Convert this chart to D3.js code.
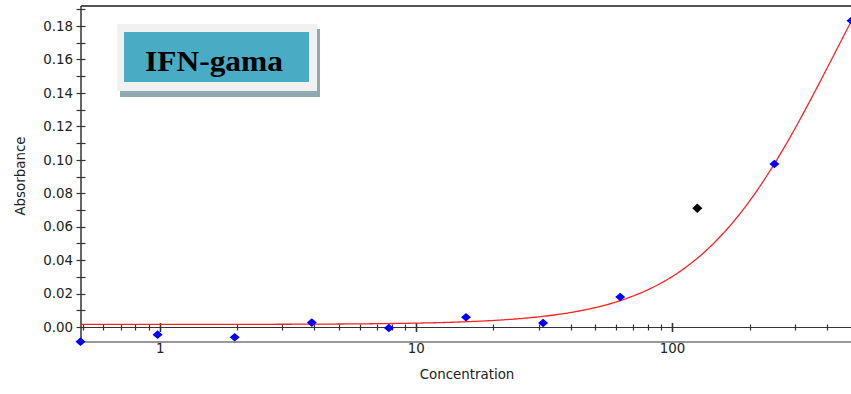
<!DOCTYPE html>
<html>
<head>
<meta charset="utf-8">
<script src="https://cdn.jsdelivr.net/npm/d3@7/dist/d3.min.js"></script>
<style>
  html, body { margin: 0; padding: 0; background: #ffffff; }
  svg { display: block; }
  text.lbl { font-family: "DejaVu Sans", sans-serif; fill: #222; }
  text.badge { font-family: "Liberation Serif", "Times New Roman", serif; font-weight: bold; fill: #000; }
</style>
</head>
<body>
<svg id="chart" width="851" height="394"></svg>
<script>
// Standard concentrations (two-fold dilution series) and measured absorbance
const concentrations = [0.48828125, 0.9765625, 1.953125, 3.90625, 7.8125, 15.625, 31.25, 62.5, 250, 500];
const absorbance     = [-0.0088, -0.0046, -0.0062, 0.0026, -0.0006, 0.0058, 0.0024, 0.0179, 0.0975, 0.1832];

// Point left out of the fit
const outlierConc = [125];
const outlierAbs  = [0.071];

// Four-parameter logistic fit: bottom, slope, EC50, top
const fitParams = { a: 0.0015, b: 1.6, c: 428, d: 0.3247 };

const yTicks = [0.00, 0.02, 0.04, 0.06, 0.08, 0.10, 0.12, 0.14, 0.16, 0.18];
const xTickLabels = [1, 10, 100];
const titleText = "IFN-gama";

const svg = d3.select("#chart");

const x = d3.scaleLog().domain([0.48828125, 500]).range([80.5, 851.5]);
const y = d3.scaleLinear().domain([-0.009, 0.192]).range([342, 6]);

const axisColor = "#333";
const plotLeft = 81, plotRight = 851, plotTop = 6, plotBottom = 342;

// Top frame line
svg.append("line").attr("x1", plotLeft).attr("x2", plotRight).attr("y1", plotTop).attr("y2", plotTop)
  .attr("stroke", "#555").attr("stroke-width", 2);
// Bottom frame line
svg.append("line").attr("x1", plotLeft).attr("x2", plotRight).attr("y1", plotBottom).attr("y2", plotBottom)
  .attr("stroke", axisColor).attr("stroke-width", 1.2);

// Y axis: major ticks every 0.02, minor every 0.01, crossing the axis line
const yAxisG = svg.append("g");
yAxisG.append("line").attr("x1", plotLeft).attr("x2", plotLeft).attr("y1", plotTop).attr("y2", plotBottom)
  .attr("stroke", axisColor).attr("stroke-width", 1.5);
const yMinor = d3.range(0, 0.1905, 0.01);
yAxisG.selectAll("line.tk").data(yMinor).join("line").attr("class", "tk")
  .attr("x1", plotLeft - 4.5).attr("x2", plotLeft + 4.5)
  .attr("y1", d => Math.round(y(d)) + 0.5).attr("y2", d => Math.round(y(d)) + 0.5)
  .attr("stroke", axisColor).attr("stroke-width", 1.2);
yAxisG.selectAll("text").data(yTicks).join("text").attr("class", "lbl")
  .attr("x", 73).attr("y", d => y(d)).attr("dy", "0.36em")
  .attr("text-anchor", "end").attr("font-size", 13.4)
  .text(d => d3.format(".2f")(d));

// X axis drawn along the zero line, with decade labels under the frame
const xAxisG = svg.append("g");
const y0 = Math.round(y(0)) + 0.5;
xAxisG.append("line").attr("x1", plotLeft).attr("x2", plotRight).attr("y1", y0).attr("y2", y0)
  .attr("stroke", axisColor).attr("stroke-width", 1.2);
const xTicks = x.ticks(30).filter(t => t >= 0.5 && t <= 500);
xAxisG.selectAll("line.tk").data(xTicks).join("line").attr("class", "tk")
  .attr("x1", d => Math.round(x(d)) + 0.5).attr("x2", d => Math.round(x(d)) + 0.5)
  .attr("y1", d => xTickLabels.includes(d) ? y0 - 4.5 : y0 - 3)
  .attr("y2", d => xTickLabels.includes(d) ? y0 + 4.5 : y0 + 3)
  .attr("stroke", axisColor).attr("stroke-width", d => xTickLabels.includes(d) ? 1.6 : 1.2);
xAxisG.selectAll("text").data(xTickLabels).join("text").attr("class", "lbl")
  .attr("x", d => x(d)).attr("y", 352.5)
  .attr("text-anchor", "middle").attr("font-size", 13.4)
  .text(d => d);

// Axis titles
svg.append("text").attr("class", "lbl").attr("x", 467).attr("y", 379).attr("text-anchor", "middle")
  .attr("font-size", 13.4).text("Concentration");
svg.append("text").attr("class", "lbl").attr("transform", "translate(25,176) rotate(-90)")
  .attr("text-anchor", "middle").attr("font-size", 13.4).text("Absorbance");

// Fitted curve
const fourPL = c => fitParams.d + (fitParams.a - fitParams.d) / (1 + Math.pow(c / fitParams.c, fitParams.b));
const curveX = d3.range(0, 401).map(i => Math.pow(10, Math.log10(0.48828125) + i / 400 * Math.log10(510 / 0.48828125)));
svg.append("path")
  .datum(curveX)
  .attr("fill", "none").attr("stroke", "#f22").attr("stroke-width", 1.3)
  .attr("d", d3.line().x(d => x(d)).y(d => y(fourPL(d))));

// Diamond markers
const diamond = (cx, cy, hw, hh) => `M${cx},${cy - hh}L${cx + hw},${cy}L${cx},${cy + hh}L${cx - hw},${cy}Z`;
svg.selectAll("path.pt").data(concentrations.map((c, i) => [c, absorbance[i]])).join("path")
  .attr("class", "pt")
  .attr("d", d => diamond(x(d[0]), y(d[1]), 5, 4.3))
  .attr("fill", "#0000ff");
svg.selectAll("path.out").data(outlierConc.map((c, i) => [c, outlierAbs[i]])).join("path")
  .attr("class", "out")
  .attr("d", d => diamond(x(d[0]), y(d[1]), 5, 4.8))
  .attr("fill", "#000");

// Title badge: shadow, light frame, teal panel
const badge = svg.append("g");
badge.append("rect").attr("x", 120).attr("y", 29).attr("width", 200).attr("height", 68).attr("fill", "#8fa9b3");
badge.append("rect").attr("x", 117).attr("y", 24).attr("width", 200).attr("height", 67).attr("fill", "#f1f1f1");
badge.append("rect").attr("x", 124).attr("y", 32).attr("width", 185).attr("height", 50).attr("fill", "#4aabc5");
badge.append("text").attr("class", "badge").attr("x", 145).attr("y", 70.5)
  .attr("font-size", 30)
  .attr("textLength", 138).attr("lengthAdjust", "spacingAndGlyphs")
  .text(titleText);
</script>
</body>
</html>
